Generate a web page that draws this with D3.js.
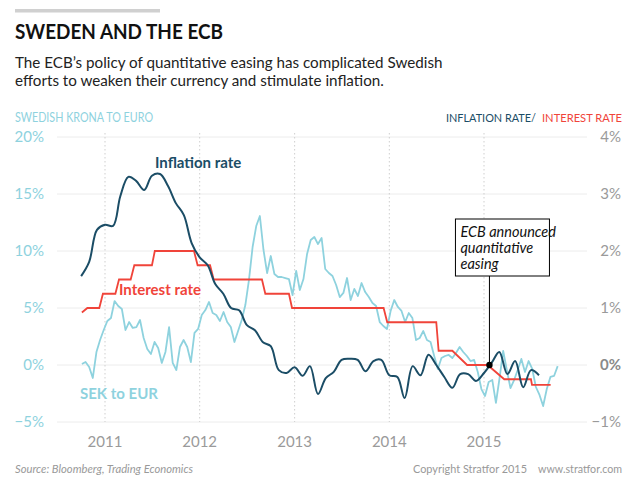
<!DOCTYPE html>
<html>
<head>
<meta charset="utf-8">
<script src="https://cdn.jsdelivr.net/npm/d3@7"></script>
<style>
body { margin: 0; background: #fff; }
text { font-family: Lato, "Open Sans", sans-serif; }
</style>
</head>
<body>
<svg width="640" height="479"></svg>
<script>
var svg = d3.select("svg");

// Data
// SEK to EUR, % change, sampled every 14 days from 4 Oct 2010
var sekStart = new Date(2010, 9, 4);
var sekValues = [0.09,0.26,-0.18,-1.14,1.14,2.19,3.07,3.86,4.12,5.61,
    5.18,4.91,3.07,3.77,3.25,3.33,3.95,2.37,1.40,0.96,
    2.02,1.49,0.18,1.14,3.33,0.18,-0.44,1.58,2.19,1.58,
    0.26,2.81,3.16,4.39,4.82,5.53,4.56,4.39,3.86,4.65,
    3.77,3.33,2.02,2.98,3.95,5.26,7.46,10.35,12.19,13.07,
    10.09,8.07,9.56,7.98,7.72,7.72,7.63,7.54,6.14,8.25,
    6.58,7.54,9.74,10.96,11.23,10.61,11.14,8.42,8.07,7.81,
    7.02,5.96,6.32,7.63,5.70,6.67,6.05,7.19,6.40,5.96,
    5.44,5.18,3.77,3.42,3.16,4.74,5.70,5.09,4.74,3.77,
    4.56,4.12,2.19,2.37,2.98,2.19,2.02,0.79,-0.35,0.61,
    0.79,0.88,0.61,1.05,1.58,1.14,0.79,0.35,0.44,-0.61,
    -2.11,-2.72,-1.49,-1.32,-3.33,-1.14,1.23,-0.44,-2.02,-1.32,
    -0.44,0.53,-0.61,0.35,-0.35,-1.93,-2.63,-3.6,-2.11,-1.05,
    -0.96,-0.1];

// Inflation rate, monthly from Oct 2010
var inflationStart = new Date(2010, 9, 1);
var inflationValues = [1.56,1.81,2.37,2.46,2.44,2.96,3.30,3.23,3.07,3.32,
    3.35,3.14,2.84,2.63,2.14,1.89,1.75,1.42,1.25,1.0,
    0.96,0.70,0.61,0.40,0.33,-0.09,-0.14,-0.04,-0.19,-0.02,
    -0.51,-0.23,-0.12,0.09,0.11,0.09,-0.11,0.07,0.09,-0.18,
    -0.21,-0.58,-0.02,-0.18,0.18,0.0,-0.21,-0.40,-0.16,-0.16,
    -0.28,-0.14,0.05,0.23,-0.16,0.07,-0.39,-0.09,-0.18];

// Interest (repo) rate
var interestDates = ["2010-10-04","2010-10-25","2010-12-10","2010-12-24","2011-02-10","2011-02-24",
    "2011-04-10","2011-04-24","2011-07-01","2011-07-12","2011-12-10","2011-12-24",
    "2012-02-10","2012-02-24","2012-08-28","2012-09-10","2012-12-10","2012-12-22",
    "2013-12-10","2013-12-24","2014-07-01","2014-07-10","2014-09-01","2014-10-28",
    "2015-01-15","2015-03-20","2015-07-01","2015-07-05","2015-09-15"];
var interestValues = [0.92,1.00,1.00,1.25,1.25,1.50,
    1.50,1.75,1.75,2.00,2.00,1.75,
    1.75,1.50,1.50,1.25,1.25,1.00,
    1.00,0.75,0.75,0.25,0.25,0.00,
    0.00,-0.25,-0.25,-0.35,-0.35];

var leftTicks = [-5, 0, 5, 10, 15, 20];
var rightTicks = [-1, 0, 1, 2, 3, 4];
var yearTicks = [2011, 2012, 2013, 2014, 2015];
var qeDate = new Date(2015, 0, 22);

// Colours
var sekColor = "#8ed2de";
var inflColor = "#1b4d66";
var rateColor = "#f0443a";
var gridColor = "#ececec";
var tickColor = "#9a9a9a";

var parseDate = d3.timeParse("%Y-%m-%d");

var sekData = sekValues.map((v, i) => ({ date: d3.timeDay.offset(sekStart, i * 14), value: v }));
var inflationData = inflationValues.map((v, i) => ({ date: d3.timeMonth.offset(inflationStart, i), value: v }));
var interestData = interestDates.map((d, i) => ({ date: parseDate(d), value: interestValues[i] }));

// Plot frame
var plotLeft = 57, plotRight = 587, plotTop = 137, plotBottom = 422;

// Scales
var xScale = d3.scaleTime()
    .domain([new Date(2011, 0, 1), new Date(2015, 0, 1)])
    .range([105, 484]);
var yLeft = d3.scaleLinear().domain([-5, 20]).range([plotBottom, plotTop]);
var yRight = d3.scaleLinear().domain([-1, 4]).range([plotBottom, plotTop]);

// Header
svg.append("rect")
    .attr("x", 15).attr("y", 9)
    .attr("width", 145).attr("height", 3.5)
    .attr("fill", "#d0d0d0");

svg.append("text")
    .attr("x", 15).attr("y", 38.5)
    .style("font-size", "21px")
    .style("font-weight", "bold")
    .style("fill", "#111")
    .attr("textLength", 208)
    .attr("lengthAdjust", "spacingAndGlyphs")
    .text("SWEDEN AND THE ECB");

svg.append("text")
    .attr("x", 15).attr("y", 68)
    .style("font-size", "15.2px")
    .style("fill", "#222")
    .text("The ECB\u2019s policy of quantitative easing has complicated Swedish");

svg.append("text")
    .attr("x", 15).attr("y", 86)
    .style("font-size", "15.2px")
    .style("fill", "#222")
    .text("efforts to weaken their currency and stimulate inflation.");

svg.append("text")
    .attr("x", 15).attr("y", 121.5)
    .style("font-size", "13px")
    .style("fill", sekColor)
    .attr("textLength", 138)
    .attr("lengthAdjust", "spacingAndGlyphs")
    .text("SWEDISH KRONA TO EURO");

svg.append("text")
    .attr("x", 446).attr("y", 121.5)
    .style("font-size", "12px")
    .style("fill", inflColor)
    .attr("textLength", 90)
    .attr("lengthAdjust", "spacingAndGlyphs")
    .text("INFLATION RATE/");

svg.append("text")
    .attr("x", 542).attr("y", 121.5)
    .style("font-size", "12px")
    .style("fill", rateColor)
    .attr("textLength", 80)
    .attr("lengthAdjust", "spacingAndGlyphs")
    .text("INTEREST RATE");

// Grid
svg.append("g").selectAll("line")
    .data(leftTicks)
    .enter().append("line")
    .attr("x1", plotLeft).attr("x2", plotRight)
    .attr("y1", d => yLeft(d)).attr("y2", d => yLeft(d))
    .attr("stroke", gridColor)
    .attr("stroke-width", 1);

svg.append("g").selectAll("line")
    .data(yearTicks)
    .enter().append("line")
    .attr("x1", d => xScale(new Date(d, 0, 1))).attr("x2", d => xScale(new Date(d, 0, 1)))
    .attr("y1", 133).attr("y2", plotBottom)
    .attr("stroke", "#cfcfcf")
    .attr("stroke-width", 1)
    .attr("stroke-dasharray", "1.5,2.5");

// Axes labels
var fmtPct = d => (d < 0 ? "\u2212" + Math.abs(d) : d) + "%";

svg.append("g").selectAll("text")
    .data(leftTicks)
    .enter().append("text")
    .attr("x", 44)
    .attr("y", d => yLeft(d))
    .attr("dy", "0.36em")
    .style("text-anchor", "end")
    .style("font-size", "15px")
    .style("fill", sekColor)
    .text(fmtPct);

svg.append("g").selectAll("text")
    .data(rightTicks)
    .enter().append("text")
    .attr("x", 621)
    .attr("y", d => yRight(d))
    .attr("dy", "0.36em")
    .style("text-anchor", "end")
    .style("font-size", "15px")
    .style("font-weight", d => d === 0 ? "bold" : "normal")
    .style("fill", d => d === 0 ? "#8a8a8a" : tickColor)
    .text(fmtPct);

svg.append("g").selectAll("text")
    .data(yearTicks)
    .enter().append("text")
    .attr("x", d => xScale(new Date(d, 0, 1)))
    .attr("y", 447)
    .style("text-anchor", "middle")
    .style("font-size", "15px")
    .style("fill", tickColor)
    .text(d => d);

// Lines
var sekLine = d3.line()
    .x(d => xScale(d.date))
    .y(d => yLeft(d.value));

var rightLine = d3.line()
    .x(d => xScale(d.date))
    .y(d => yRight(d.value));

svg.append("path")
    .datum(sekData)
    .attr("d", sekLine)
    .attr("fill", "none")
    .attr("stroke", sekColor)
    .attr("stroke-width", 1.8)
    .attr("stroke-linejoin", "round");

svg.append("path")
    .datum(interestData)
    .attr("d", rightLine)
    .attr("fill", "none")
    .attr("stroke", rateColor)
    .attr("stroke-width", 1.8);

svg.append("path")
    .datum(inflationData)
    .attr("d", rightLine.curve(d3.curveCatmullRom.alpha(0.5)))
    .attr("fill", "none")
    .attr("stroke", inflColor)
    .attr("stroke-width", 2);

// Series labels
svg.append("text")
    .attr("x", 155).attr("y", 168)
    .style("font-size", "15px").style("font-weight", "bold")
    .style("fill", inflColor)
    .text("Inflation rate");

svg.append("text")
    .attr("x", 119).attr("y", 295)
    .style("font-size", "15px").style("font-weight", "bold")
    .style("fill", rateColor)
    .text("Interest rate");

svg.append("text")
    .attr("x", 80).attr("y", 399)
    .style("font-size", "15px").style("font-weight", "bold")
    .style("fill", sekColor)
    .text("SEK to EUR");

// Annotation
var qx = xScale(qeDate), qy = yRight(0);
var boxX = qx - 34, boxY = 219, boxW = 94, boxH = 57;

svg.append("line")
    .attr("x1", qx).attr("x2", qx)
    .attr("y1", boxY + boxH).attr("y2", qy)
    .attr("stroke", "#000").attr("stroke-width", 1);

svg.append("rect")
    .attr("x", boxX).attr("y", boxY)
    .attr("width", boxW).attr("height", boxH)
    .attr("fill", "#fff")
    .attr("stroke", "#000").attr("stroke-width", 1);

var noteText = svg.append("text")
    .attr("x", boxX + 5).attr("y", boxY + 17.5)
    .style("font-size", "14.5px").style("font-style", "italic")
    .style("fill", "#111");
["ECB announced", "quantitative", "easing"].forEach((t, i) => {
    noteText.append("tspan")
        .attr("x", boxX + 5)
        .attr("dy", i === 0 ? 0 : 16)
        .text(t);
});

svg.append("circle")
    .attr("cx", qx).attr("cy", qy)
    .attr("r", 3.2)
    .attr("fill", "#000");

// Footer
svg.append("text")
    .attr("x", 15).attr("y", 473)
    .style("font-size", "11.5px").style("font-style", "italic")
    .style("fill", "#999")
    .attr("textLength", 178)
    .attr("lengthAdjust", "spacingAndGlyphs")
    .text("Source: Bloomberg, Trading Economics");

svg.append("text")
    .attr("x", 413).attr("y", 473)
    .style("font-size", "11.5px")
    .style("fill", "#999")
    .attr("textLength", 114)
    .attr("lengthAdjust", "spacingAndGlyphs")
    .text("Copyright Stratfor 2015");

svg.append("text")
    .attr("x", 538).attr("y", 473)
    .style("font-size", "11.5px")
    .style("fill", "#999")
    .attr("textLength", 84)
    .attr("lengthAdjust", "spacingAndGlyphs")
    .text("www.stratfor.com");
</script>
</body>
</html>
